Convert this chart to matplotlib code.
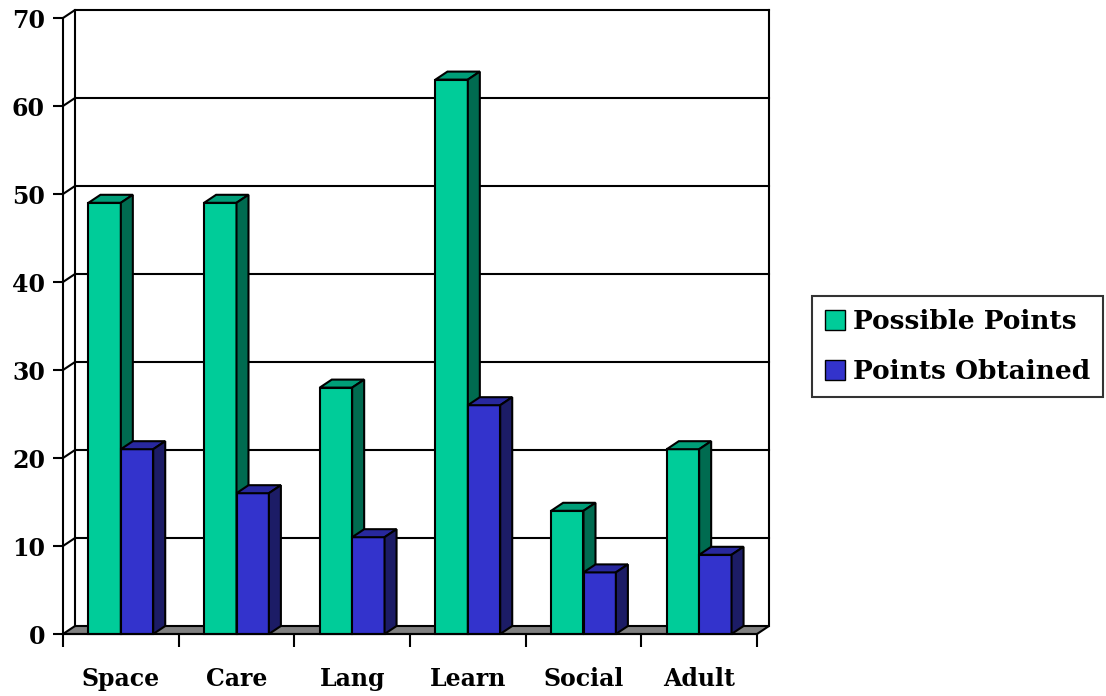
import matplotlib
matplotlib.use('Agg')
import matplotlib.pyplot as plt
from matplotlib.patches import Polygon, Patch
import numpy as np

categories = ['Space', 'Care', 'Lang', 'Learn', 'Social', 'Adult']
possible = [49, 49, 28, 63, 14, 21]
obtained = [21, 16, 11, 26, 7, 9]
series_names = ['Possible Points', 'Points Obtained']

# цвета: лицевая грань, верх, бок
green = ('#00cc99', '#009e78', '#006b50')
blue = ('#3333cc', '#28289e', '#1c1c66')

plt.rcParams['font.family'] = ['DejaVu Serif']
plt.rcParams['font.weight'] = 'bold'

fig = plt.figure(figsize=(11.06, 6.96), dpi=100)
W, H = 1106, 696
x0, x1, yb, yt = 63, 757, 634, 18
ax = fig.add_axes([x0 / W, 1 - yb / H, (x1 - x0) / W, (yb - yt) / H])
ax.set_xlim(0, 6)
ax.set_ylim(0, 70)

# глубина 3D в единицах данных
ddx = 12 / ((x1 - x0) / 6)
ddy = 8 / ((yb - yt) / 70)
n = len(categories)
lw = 1.5

# пол
ax.add_patch(Polygon([(0, 0), (n, 0), (n + ddx, ddy), (ddx, ddy)], closed=True,
                     facecolor='#808080', edgecolor='black', lw=lw, clip_on=False, zorder=1))
# задняя стена и сетка
for v in range(10, 71, 10):
    ax.plot([0, ddx, n + ddx], [v, v + ddy, v + ddy], color='black', lw=lw, clip_on=False, zorder=1)
ax.plot([ddx, ddx], [ddy, 70 + ddy], color='black', lw=lw, clip_on=False, zorder=1)
ax.plot([n + ddx, n + ddx], [ddy, 70 + ddy], color='black', lw=lw, clip_on=False, zorder=1)


def bar3d(x, w, h, cols, z):
    ax.bar(x, h, width=w, align='edge', color=cols[0], edgecolor='black', lw=lw, zorder=z, clip_on=False)
    ax.add_patch(Polygon([(x, h), (x + w, h), (x + w + ddx, h + ddy), (x + ddx, h + ddy)],
                         closed=True, facecolor=cols[1], edgecolor='black', lw=lw, zorder=z, clip_on=False))
    ax.add_patch(Polygon([(x + w, 0), (x + w + ddx, ddy), (x + w + ddx, h + ddy), (x + w, h)],
                         closed=True, facecolor=cols[2], edgecolor='black', lw=lw, zorder=z, clip_on=False))


bw = 0.28
z = 3
for i in range(n):
    bar3d(i + 0.22, bw, possible[i], green, z)
    z += 1
    bar3d(i + 0.50, bw, obtained[i], blue, z)
    z += 1

for s in ['top', 'right']:
    ax.spines[s].set_visible(False)
for s in ['left', 'bottom']:
    ax.spines[s].set_linewidth(lw)
    ax.spines[s].set_zorder(50)

ax.set_yticks(range(0, 71, 10))
ax.tick_params(axis='y', length=7, width=lw, pad=6, labelsize=17)
ax.set_xticks(range(0, n + 1))
ax.set_xticklabels([])
ax.tick_params(axis='x', which='major', length=9, width=lw)
ax.set_xticks(np.arange(n) + 0.5, minor=True)
ax.set_xticklabels(categories, minor=True, fontsize=17)
ax.tick_params(axis='x', which='minor', length=0, pad=24)
ax.set_facecolor('none')

handles = [Patch(facecolor=green[0], edgecolor='black', lw=1),
           Patch(facecolor=blue[0], edgecolor='black', lw=1)]
leg = fig.legend(handles, series_names, loc='upper left', bbox_to_anchor=(812 / W, 1 - 296 / H),
                 borderaxespad=0, fancybox=False, fontsize=19, handlelength=0.75, handleheight=0.75,
                 handletextpad=0.3, labelspacing=0.95, borderpad=0.5)
leg.get_frame().set_edgecolor('black')
leg.get_frame().set_linewidth(lw)

fig.savefig('out.png', dpi=100)
